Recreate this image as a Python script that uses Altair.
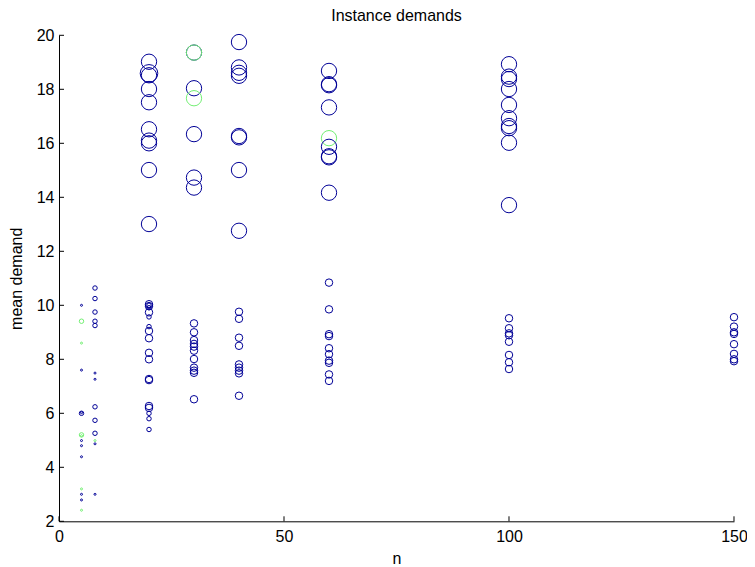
import altair as alt
import pandas as pd

# ---- data ----
n_vals = (
    [5] * 15 + [8] * 13 + [20] * 28 + [30] * 18 + [40] * 17 + [60] * 19 + [100] * 18 + [150] * 8
)
demand_vals = [
    # n = 5
    10.0, 9.41, 8.6, 7.6, 6.0, 6.02, 5.2, 5.17, 4.99, 4.8, 4.39, 3.2, 3.0, 2.79, 2.41,
    # n = 8
    10.64, 10.25, 9.75, 9.41, 9.25, 7.49, 7.26, 6.24, 5.74, 5.26, 4.99, 4.87, 3.0,
    # n = 20
    19.02, 18.59, 18.52, 18.01, 17.52, 16.52, 16.1, 16.0, 15.01, 13.01,
    10.04, 10.0, 9.97, 9.91, 9.74, 9.57, 9.21, 9.05, 8.78, 8.24, 8.0, 7.27, 7.23, 6.27, 6.2, 6.0, 5.8, 5.4,
    # n = 30
    19.36, 19.36, 18.04, 17.67, 16.34, 14.73, 14.36,
    9.33, 9.0, 8.71, 8.57, 8.47, 8.32, 8.01, 7.69, 7.58, 7.5, 6.52,
    # n = 40
    19.75, 18.81, 18.61, 18.5, 16.27, 16.22, 15.01, 12.76,
    9.76, 9.5, 8.8, 8.5, 7.81, 7.69, 7.58, 7.48, 6.65,
    # n = 60
    18.68, 18.19, 18.15, 17.33, 16.19, 15.87, 15.52, 15.48, 14.17,
    10.84, 9.85, 8.93, 8.86, 8.41, 8.19, 7.95, 7.87, 7.44, 7.2,
    # n = 100
    18.93, 18.47, 18.38, 18.01, 17.42, 16.93, 16.64, 16.56, 16.02, 13.71,
    9.52, 9.15, 8.96, 8.89, 8.65, 8.16, 7.89, 7.64,
    # n = 150
    9.56, 9.21, 9.0, 8.94, 8.56, 8.2, 8.0, 7.93,
]
# marker size class of each point (a = smallest ... e = largest)
size_class = (
    # n = 5
    ["a", "b", "a", "a", "b", "a", "b", "a", "a", "a", "a", "a", "a", "a", "a"]
    # n = 8
    + ["b", "b", "b", "b", "b", "a", "a", "b", "b", "b", "a", "a", "a"]
    # n = 20
    + ["d", "e", "d", "d", "d", "d", "d", "d", "d", "d"]
    + ["c", "b", "c", "b", "c", "b", "b", "c", "c", "c", "c", "c", "c", "c", "c", "b", "b", "b"]
    # n = 30
    + ["d"] * 7 + ["c"] * 11
    # n = 40
    + ["d"] * 8 + ["c"] * 9
    # n = 60
    + ["d"] * 9 + ["c"] * 10
    # n = 100
    + ["d"] * 10 + ["c"] * 8
    # n = 150
    + ["c"] * 8
)
group = (
    ["B", "G", "G", "B", "B", "B", "G", "G", "B", "B", "B", "G", "B", "B", "G"]
    + ["B"] * 10 + ["G", "B", "B"]
    + ["B"] * 28
    + ["B", "G", "B", "G", "B", "B", "B"] + ["B"] * 11
    + ["B"] * 17
    + ["B"] * 4 + ["G"] + ["B"] * 14
    + ["B"] * 18
    + ["B"] * 8
)
x_ticks = [0, 50, 100, 150]
y_ticks = [2, 4, 6, 8, 10, 12, 14, 16, 18, 20]

df = pd.DataFrame({"n": n_vals, "mean demand": demand_vals, "cls": size_class, "grp": group})

FONT = "Liberation Sans"
W, H = 675, 486
SIZES = {"a": 4, "b": 20, "c": 56, "d": 235, "e": 310}

xscale = alt.Scale(domain=[0, 150], nice=False, zero=False)
yscale = alt.Scale(domain=[2, 20], nice=False, zero=False)

xenc = alt.X("n:Q", scale=xscale, title="n",
             axis=alt.Axis(values=x_ticks, tickSize=0, grid=False, labelFlush=False,
                           labelPadding=7, titlePadding=6))
yenc = alt.Y("mean demand:Q", scale=yscale, title="mean demand",
             axis=alt.Axis(values=y_ticks, tickSize=0, grid=False, labelFlush=False,
                           labelPadding=5, titlePadding=12))
cenc = alt.Color("grp:N", scale=alt.Scale(domain=["B", "G"], range=["#000096", "#72ee72"]),
                 legend=None)

base = alt.Chart(df)
layers = []
for k, s in SIZES.items():
    layers.append(
        base.transform_filter(alt.datum.cls == k)
        .mark_point(filled=False, strokeWidth=1, opacity=1, size=s)
        .encode(x=xenc, y=yenc, color=cenc)
    )

xt = alt.Chart(pd.DataFrame({"t": x_ticks})).mark_rule(color="black", strokeWidth=1).encode(
    x=alt.X("t:Q", scale=xscale), y=alt.value(H), y2=alt.value(H - 5)
)
yt = alt.Chart(pd.DataFrame({"t": y_ticks})).mark_rule(color="black", strokeWidth=1).encode(
    y=alt.Y("t:Q", scale=yscale), x=alt.value(0), x2=alt.value(5)
)

chart = alt.layer(*layers, xt, yt).properties(
    width=W, height=H,
    title=alt.TitleParams("Instance demands", font=FONT, fontSize=16, fontWeight="normal",
                          anchor="middle", offset=3, color="black", frame="group"),
    padding={"left": 51, "top": 27.3, "right": 13, "bottom": 46},
    autosize=alt.AutoSizeParams(type="none"),
).configure_view(stroke=None).configure_axis(
    domainColor="black", domainWidth=1, labelFont=FONT, labelFontSize=16, labelColor="black",
    titleFont=FONT, titleFontSize=16, titleFontWeight="normal", titleColor="black",
    labelOverlap=False,
)

chart.save("out.html", embed_options={"renderer": "svg", "actions": False})
